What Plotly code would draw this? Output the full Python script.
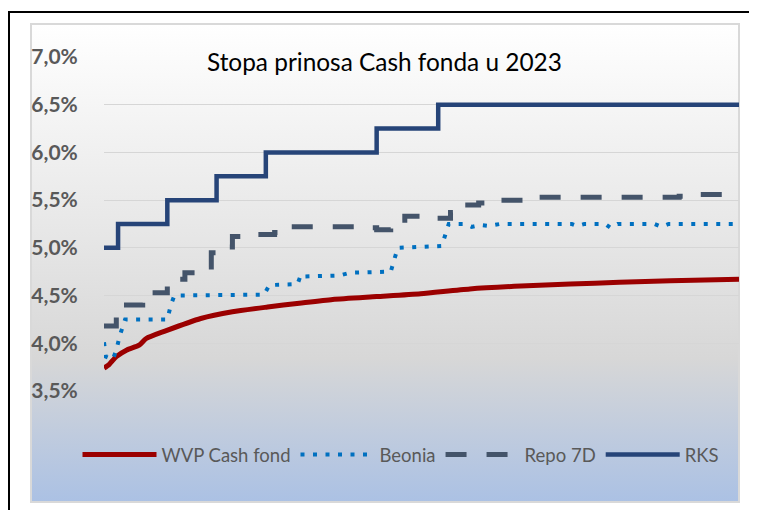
import base64
import plotly.graph_objects as go

# page offset of the plot div (browser default body margin) and figure size
OFF = 8
FW, FH = 749, 502

# ---------------- data (percent) ----------------
wvp_dates = ["2023-01-04", "2023-01-07", "2023-01-11", "2023-01-17", "2023-01-24",
             "2023-01-28", "2023-02-08", "2023-02-28", "2023-03-18", "2023-04-07",
             "2023-04-25", "2023-05-14", "2023-06-08", "2023-07-03", "2023-07-31",
             "2023-08-29", "2023-09-26", "2023-10-24", "2023-11-22", "2023-12-31"]
wvp_values = [3.74, 3.78, 3.86, 3.93, 3.98,
              4.05, 4.13, 4.26, 4.33, 4.38,
              4.42, 4.46, 4.49, 4.52, 4.57,
              4.60, 4.62, 4.64, 4.655, 4.67]

beonia_dates = ["2023-01-04", "2023-01-05", "2023-01-09", "2023-01-11", "2023-01-13",
                "2023-01-15", "2023-01-16", "2023-02-09", "2023-02-11", "2023-02-13",
                "2023-04-05", "2023-04-08", "2023-04-24", "2023-04-26", "2023-04-28",
                "2023-05-18", "2023-05-24", "2023-06-16", "2023-06-20", "2023-07-15",
                "2023-07-19", "2023-07-28", "2023-08-01", "2023-08-06", "2023-08-11",
                "2023-08-17", "2023-09-27", "2023-09-30", "2023-10-04", "2023-10-16",
                "2023-10-19", "2023-10-23", "2023-11-13", "2023-11-17", "2023-11-21",
                "2023-12-31"]
beonia_values = [4.01, 3.86, 3.83, 3.93, 4.08,
                 4.20, 4.25, 4.25, 4.40, 4.50,
                 4.51, 4.61, 4.62, 4.72, 4.70,
                 4.71, 4.74, 4.75, 5.00, 5.02,
                 5.25, 5.25, 5.22, 5.24, 5.23,
                 5.25, 5.25, 5.23, 5.25, 5.25,
                 5.21, 5.25, 5.25, 5.22, 5.25,
                 5.25]

repo_dates = ["2023-01-04", "2023-01-11", "2023-01-26", "2023-01-31", "2023-02-09",
              "2023-02-19", "2023-02-27", "2023-03-06", "2023-03-15", "2023-03-18",
              "2023-03-31", "2023-04-11", "2023-04-20", "2023-05-30", "2023-06-08",
              "2023-06-16", "2023-06-24", "2023-07-08", "2023-07-20", "2023-07-24",
              "2023-08-05", "2023-08-14", "2023-09-06", "2023-11-27", "2023-12-06",
              "2023-12-23", "2023-12-31"]
repo_values = [4.18, 4.40, 4.47, 4.53, 4.67,
               4.74, 4.80, 4.95, 5.01, 5.12,
               5.14, 5.16, 5.22, 5.21, 5.19,
               5.29, 5.33, 5.31, 5.37, 5.45,
               5.47, 5.50, 5.53, 5.54, 5.56,
               5.57, 5.57]

rks_dates = ["2023-01-04", "2023-01-12", "2023-02-09", "2023-03-09", "2023-04-06",
             "2023-06-08", "2023-07-13", "2023-12-31"]
rks_values = [5.00, 5.25, 5.50, 5.75, 6.00, 6.25, 6.50, 6.50]

series_names = ["WVP Cash fond", "Beonia", "Repo 7D", "RKS"]
y_tickvals = [3.5, 4.0, 4.5, 5.0, 5.5, 6.0, 6.5, 7.0]
y_ticktext = ["3,5%", "4,0%", "4,5%", "5,0%", "5,5%", "6,0%", "6,5%", "7,0%"]
title_text = "Stopa prinosa Cash fonda u 2023"

# ---------------- helpers (page pixel -> paper fraction) ----------------
def px(x):
    return (x - OFF) / FW

def py(y):
    return 1 - (y - OFF) / FH

# gradient background (chart area)
svg = (
    '<svg xmlns="http://www.w3.org/2000/svg" width="710" height="480" '
    'viewBox="0 0 710 480" preserveAspectRatio="none">'
    '<defs><linearGradient id="g" x1="0" y1="0" x2="0" y2="1">'
    '<stop offset="0" stop-color="#ffffff"/>'
    '<stop offset="0.45" stop-color="#e6e6e6"/>'
    '<stop offset="0.70" stop-color="#d7d7d7"/>'
    '<stop offset="1" stop-color="#abc1e4"/>'
    '</linearGradient></defs>'
    '<rect x="1" y="1" width="708" height="478" fill="url(#g)" '
    'stroke="#d9d9d9" stroke-width="2"/></svg>'
)
svg_uri = "data:image/svg+xml;base64," + base64.b64encode(svg.encode()).decode()

fig = go.Figure()

fig.add_trace(go.Scatter(
    x=wvp_dates, y=wvp_values, name=series_names[0], mode="lines",
    line=dict(color="#9b0000", width=5, shape="spline", smoothing=0.6),
))
fig.add_trace(go.Scatter(
    x=beonia_dates, y=beonia_values, name=series_names[1], mode="lines",
    line=dict(color="#0070c0", width=4, dash="4px,8.5px"),
))
fig.add_trace(go.Scatter(
    x=repo_dates, y=repo_values, name=series_names[2], mode="lines",
    line=dict(color="#44546a", width=5, shape="hv", dash="21px,20px"),
))
fig.add_trace(go.Scatter(
    x=rks_dates, y=rks_values, name=series_names[3], mode="lines",
    line=dict(color="#264478", width=4.5, shape="hv"),
))

fig.update_layout(
    width=FW, height=FH, autosize=False,
    margin=dict(l=0, r=0, t=0, b=0, pad=0, autoexpand=False),
    paper_bgcolor="#ffffff",
    plot_bgcolor="rgba(0,0,0,0)",
    font=dict(family="Lato", color="#595959"),
    xaxis=dict(
        domain=[px(104), px(739)], automargin=False,
        type="date", range=["2023-01-04", "2023-12-31"],
        showgrid=False, showticklabels=False, zeroline=False, showline=False,
        ticks="",
    ),
    yaxis=dict(
        domain=[py(391), py(57)], automargin=False,
        range=[3.5, 7.0], tickvals=y_tickvals, ticktext=y_ticktext,
        showgrid=True, gridcolor="#d6d6d6", gridwidth=1.2,
        zeroline=False, showline=False,
        ticks="outside", ticklen=21, tickcolor="rgba(0,0,0,0)",
        tickfont=dict(family="Lato", size=21, color="#595959", weight="bold"),
    ),
    showlegend=True,
    legend=dict(
        orientation="h", x=px(401), xanchor="center", y=py(455), yanchor="middle",
        bgcolor="rgba(0,0,0,0)", font=dict(family="Lato", size=18.5, color="#595959"),
        itemwidth=74, tracegroupgap=0,
    ),
    images=[dict(
        source=svg_uri, xref="paper", yref="paper",
        x=px(30), y=py(23), sizex=710 / FW, sizey=480 / FH,
        xanchor="left", yanchor="top", sizing="stretch", layer="below",
    )],
    shapes=[dict(
        type="rect", xref="paper", yref="paper",
        x0=px(9), y0=-0.1, x1=1.1, y1=py(12),
        line=dict(color="#000000", width=2), fillcolor="rgba(0,0,0,0)",
        layer="above",
    )],
    annotations=[dict(
        text=title_text, xref="paper", yref="paper",
        x=px(384), y=py(61), xanchor="center", yanchor="middle",
        showarrow=False, font=dict(family="Lato", size=24.4, color="#000000"),
    )],
)

fig.write_html("out.html", config={"displayModeBar": False})
